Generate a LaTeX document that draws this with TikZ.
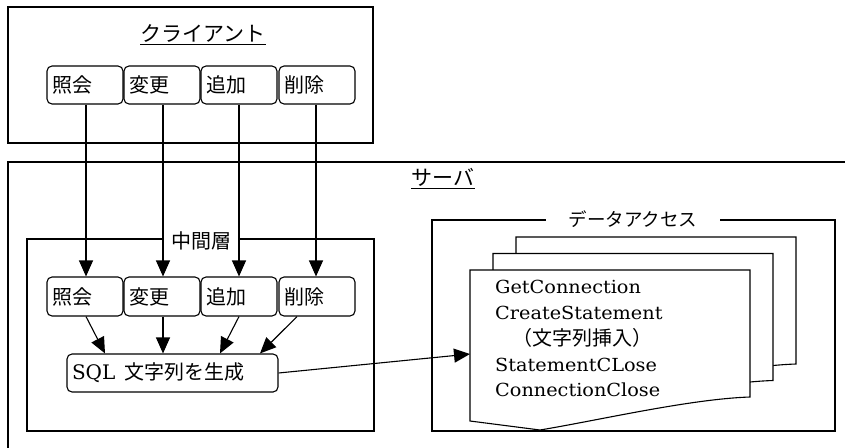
\documentclass[tikz,border=0pt]{standalone}
\usepackage{fontspec}
\newfontfamily\jp{Noto Sans CJK JP}
\newfontfamily\lat{DejaVu Serif}
\usetikzlibrary{arrows.meta,calc}
\begin{document}
\begin{tikzpicture}[x=1pt,y=-1pt,
  box/.style={draw,line width=1.1pt},
  btn/.style={draw,line width=1.1pt,rounded corners=5pt,minimum height=38pt,
    text width=65pt,inner xsep=5.5pt,align=left,font=\jp\fontsize{20}{20}\selectfont},
  arr/.style={line width=1.1pt,-{Triangle[width=14pt,length=16pt]}},
  ttl/.style={font=\jp\fontsize{21}{21}\selectfont,inner sep=0pt,anchor=base},
  uline/.style={line width=0.9pt},
  lbl/.style={fill=white,inner ysep=2pt,font=\jp\fontsize{20}{20}\selectfont},
  pagebox/.style={draw,fill=white,line width=1.1pt},
  pgtxt/.style={inner sep=0pt,anchor=base west,font=\lat\fontsize{18}{18}\selectfont},
  pgjp/.style={inner sep=0pt,anchor=base west,font=\jp\fontsize{20}{20}\selectfont}]
\useasboundingbox (0,0) rectangle (845,447);
\clip (0,0) rectangle (845,447);

% outer boxes
\draw[box] (8,162) rectangle (880,480);
\draw[box] (8,7) rectangle (373,143);
\draw[box] (27,239) rectangle (374,431);
\draw[box] (432,220) rectangle (835,431);

% titles
\node[ttl] (ct) at (203,41) {クライアント};
\draw[uline] ([yshift=-3pt]ct.base west) -- ([yshift=-3pt]ct.base east);
\node[ttl] (st) at (443,185) {サーバ};
\draw[uline] ([yshift=-3pt]st.base west) -- ([yshift=-3pt]st.base east);

\node[lbl,minimum width=78pt] (ml) at (201,241) {中間層};
\node[lbl,minimum width=174pt,font=\jp\fontsize{18.5}{18.5}\selectfont] (dl) at (633,219) {データアクセス};

% client buttons
\node[btn] (c1) at (85,85) {照会};
\node[btn] (c2) at (162,85) {変更};
\node[btn] (c3) at (239,85) {追加};
\node[btn] (c4) at (317,85) {削除};

% middle buttons
\node[btn,minimum height=39pt] (m1) at (85,296.5) {照会};
\node[btn,minimum height=39pt] (m2) at (162,296.5) {変更};
\node[btn,minimum height=39pt] (m3) at (239,296.5) {追加};
\node[btn,minimum height=39pt] (m4) at (317,296.5) {削除};

% SQL box
\node[draw,line width=1.1pt,rounded corners=5pt,minimum height=38pt,text width=201pt,
  inner xsep=5pt,align=left] (sql) at (172.5,373)
  {\lat\fontsize{20}{20}\selectfont SQL\hspace{0.45em}{\jp\fontsize{20}{20}\selectfont 文字列を生成}};

% arrows client -> middle
\draw[arr] ([xshift=1pt]c1.south) -- ([xshift=1pt]m1.north);
\draw[arr] ([xshift=1pt]c2.south) -- ([xshift=1pt]m2.north);
\draw[arr] (c3.south) -- (m3.north);
\draw[arr] ([xshift=-1pt]c4.south) -- ([xshift=-1pt]m4.north);

% arrows middle -> sql
\draw[arr] ([xshift=1pt]m1.south) -- ([xshift=-67.5pt]sql.north);
\draw[arr] ([xshift=1pt]m2.south) -- ([xshift=-9.5pt]sql.north);
\draw[arr] (m3.south) -- ([xshift=47.5pt]sql.north);
\draw[arr] ([xshift=-20pt]m4.south) -- ([xshift=87.5pt]sql.north);

% pages
\foreach \dx/\dy in {46/-33,23/-16.5,0/0}{
  \draw[pagebox,shift={(\dx,\dy)}] (470,270) -- (750,270) -- (750,397)
    .. controls (690,399) and (600,420) .. (540,430) -- (470,421) -- cycle;
}
\coordinate (pin) at (470,354);
\draw[arr] (sql.east) -- (pin);

% page text
\node[pgtxt] (l1) at (495,293) {\scalebox{1.07}[1]{GetConnection}};
\node[pgtxt] (l2) at (495,319) {\scalebox{1.07}[1]{CreateStatement}};
\node[pgjp] (l3) at (512,345) {（文字列挿入）};
\node[pgtxt] (l4) at (495,371) {\scalebox{1.07}[1]{StatementCLose}};
\node[pgtxt] (l5) at (495,396) {\scalebox{1.07}[1]{ConnectionClose}};
\end{tikzpicture}
\end{document}
